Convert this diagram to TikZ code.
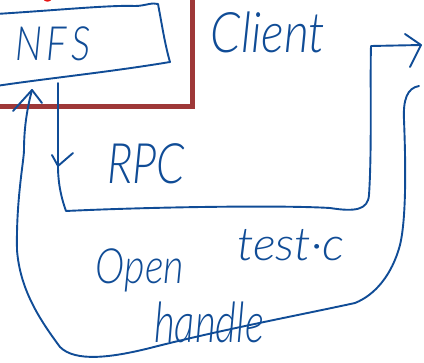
\documentclass[tikz,border=0pt]{standalone}
\usepackage{graphicx}
\usepackage{fontspec}
\newfontfamily\handfont{Lato Light}[ItalicFont={Lato Light Italic}]
\usetikzlibrary{arrows.meta}
\definecolor{ink}{RGB}{16,76,150}
\definecolor{frame}{RGB}{158,56,56}
\definecolor{dot}{RGB}{230,20,20}
\tikzset{
  pen/.style={draw=ink, line width=1.9pt, line cap=round, line join=round},
  hand/.style={text=ink, inner sep=0pt, anchor=center},
}
% handwritten label: size, horizontal and vertical stretch, text
\newcommand{\hw}[4]{\fontsize{#1}{#1}\handfont\itshape\scalebox{#2}[#3]{#4}}
\begin{document}
\begin{tikzpicture}[x=1pt,y=-1pt]
  \useasboundingbox (0,0) rectangle (424,363);

  % client frame (only its lower right corner is visible)
  \draw[frame, line width=5pt] (-10,107) -- (192,107) -- (192,-10);
  \fill[dot] (42,-2) .. controls (45,3) and (50,3) .. (53,-2) -- cycle;

  % NFS box, drawn by hand as a slanted quadrilateral
  \coordinate (b1) at (-4,14);
  \coordinate (b2) at (158,4);
  \coordinate (b3) at (170,62);
  \coordinate (b4) at (-4,86);
  \draw[pen] (b1) .. controls (60,10) and (110,5) .. (135,6)
             .. controls (145,6) and (152,2) .. (b2)
             .. controls (162,25) and (165,45) .. (b3)
             .. controls (110,72) and (50,78) .. (b4);
  \node[hand] (nfs) at (53,44) {\hw{35}{1.1}{1.35}{N\kern4pt F\kern4pt S}};

  % request path: from NFS down, across and out to the right
  \coordinate (out) at (58,83);
  \coordinate (rpcTip) at (58,166);
  \coordinate (exit) at (421,45);
  \draw[pen] (out) -- (58,130) -- (rpcTip)
     .. controls (58,185) and (62,200) .. (66,211)
     .. controls (150,207) and (280,205) .. (330,208)
     .. controls (355,212) and (368,210) .. (369,195)
     .. controls (372,150) and (370,80) .. (371,46)
     -- (exit);
  \draw[pen] (52,155) -- (rpcTip) -- (73,153);
  \draw[pen] (405,34) -- (exit) -- (410,67);

  % reply path: comes back in from the right and returns to NFS
  \coordinate (back) at (419,86);
  \coordinate (nfsIn) at (32,90);
  \draw[pen] (back) .. controls (407,88) and (403,100) .. (404,120)
     .. controls (406,170) and (406,220) .. (400,245)
     .. controls (392,275) and (375,295) .. (355,303)
     .. controls (300,315) and (220,330) .. (150,348)
     .. controls (110,358) and (75,362) .. (60,347)
     .. controls (40,320) and (20,290) .. (17,250)
     .. controls (16,200) and (24,160) .. (24,150)
     .. controls (24,125) and (28,105) .. (nfsIn);
  \draw[pen] (13,111) -- (nfsIn) -- (42,103);

  % labels
  \node[hand] (client) at (268,32) {\hw{43}{1.12}{1.3}{Client}};
  \node[hand] (rpc) at (146,164) {\hw{36}{1.25}{1.55}{RPC}};
  \node[hand] (open) at (140,270) {\hw{36}{1.1}{1.35}{Open}};
  \node[hand] (file) at (291,245) {\hw{44}{1.1}{1.05}{test·c}};
  \node[hand] (handle) at (209,322) {\hw{36}{1.12}{1.55}{handle}};
\end{tikzpicture}
\end{document}
